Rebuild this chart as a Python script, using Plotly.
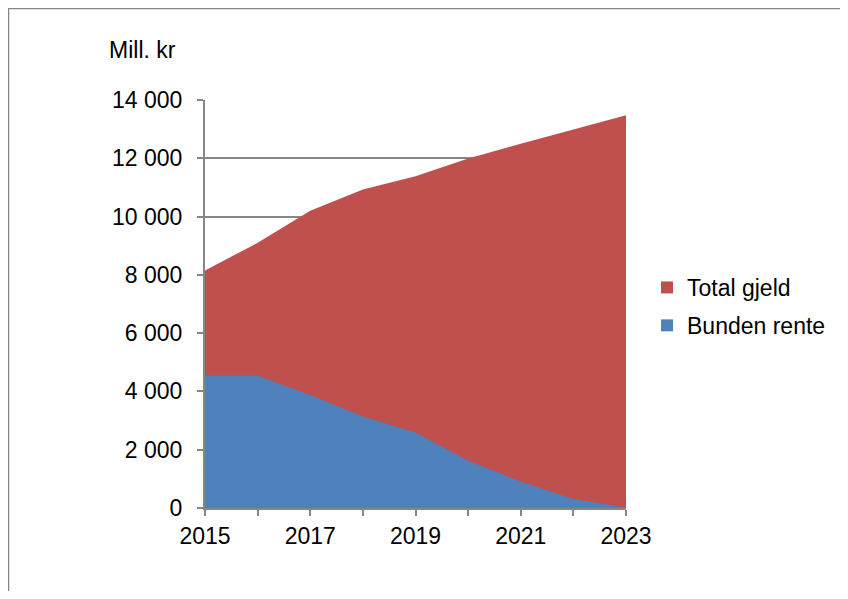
import plotly.graph_objects as go

years = [2015, 2016, 2017, 2018, 2019, 2020, 2021, 2022, 2023]
total_gjeld = [8150, 9100, 10200, 10930, 11380, 11990, 12500, 13000, 13480]
bunden_rente = [4540, 4540, 3880, 3140, 2590, 1620, 910, 310, 20]

y_ticks = [0, 2000, 4000, 6000, 8000, 10000, 12000, 14000]
y_labels = ["0", "2 000", "4 000", "6 000", "8 000", "10 000", "12 000", "14 000"]
x_labels = [str(y) if (y - 2015) % 2 == 0 else "" for y in years]

RED = "#C0504D"
BLUE = "#4F81BD"
GRID = "#868686"
FONT = "Liberation Sans, Arial, sans-serif"
FS = 23

FW, FH = 832, 583
# plot area geometry (figure px) used for paper-coordinate placements
L, T, W, H = 197, 92, 421, 408


def px(xp):
    return (xp - L) / W


def py(yp):
    return (T + H - yp) / H


fig = go.Figure()
fig.add_trace(go.Scatter(
    x=years, y=total_gjeld, name="Total gjeld", mode="lines",
    line=dict(width=0, color=RED), fill="tozeroy", fillcolor=RED,
    showlegend=False,
))
fig.add_trace(go.Scatter(
    x=years, y=bunden_rente, name="Bunden rente", mode="lines",
    line=dict(width=0, color=BLUE), fill="tozeroy", fillcolor=BLUE,
    showlegend=False,
))
# legend entries as square swatches
for nm, col in [("Total gjeld", RED), ("Bunden rente", BLUE)]:
    fig.add_trace(go.Scatter(
        x=[None], y=[None], name=nm, mode="markers", legendgroup=nm,
        marker=dict(symbol="square", size=13, color=col),
    ))

fig.update_layout(
    width=FW, height=FH,
    margin=dict(l=L, r=FW - L - W, t=T, b=FH - T - H, autoexpand=False),
    paper_bgcolor="white", plot_bgcolor="white",
    font=dict(family=FONT, size=FS, color="black"),
    showlegend=True,
    legend=dict(
        x=px(639), y=py(258), xanchor="left", yanchor="top",
        traceorder="grouped", font=dict(size=FS),
        itemsizing="constant", tracegroupgap=5, itemwidth=30,
        bgcolor="rgba(0,0,0,0)",
    ),
    xaxis=dict(
        range=[2015, 2023], tickvals=years, ticktext=x_labels,
        showgrid=False, zeroline=False,
        showline=True, linecolor=GRID, linewidth=2,
        ticks="outside", ticklen=6, tickcolor=GRID, tickwidth=2,
        tickfont=dict(size=FS),
    ),
    yaxis=dict(
        range=[0, 14000], tickvals=y_ticks, ticktext=y_labels,
        showgrid=True, gridcolor=GRID, gridwidth=2, zeroline=False,
        showline=True, linecolor=GRID, linewidth=2,
        ticks="outside", ticklen=6, tickcolor=GRID, tickwidth=2,
        tickfont=dict(size=FS), ticklabelstandoff=10,
    ),
    annotations=[dict(
        text="Mill. kr", xref="paper", yref="paper",
        x=px(99), y=py(42),
        xanchor="left", yanchor="middle", showarrow=False,
        font=dict(size=FS),
    )],
    shapes=[
        dict(type="line", xref="paper", yref="paper",
             x0=px(0), x1=px(FW + 10), y0=py(0.5), y1=py(0.5),
             line=dict(color=GRID, width=1.5), layer="above"),
        dict(type="line", xref="paper", yref="paper",
             x0=px(0.5), x1=px(0.5), y0=py(0), y1=py(FH + 10),
             line=dict(color=GRID, width=1.5), layer="above"),
    ],
)

fig.write_html("out.html")
